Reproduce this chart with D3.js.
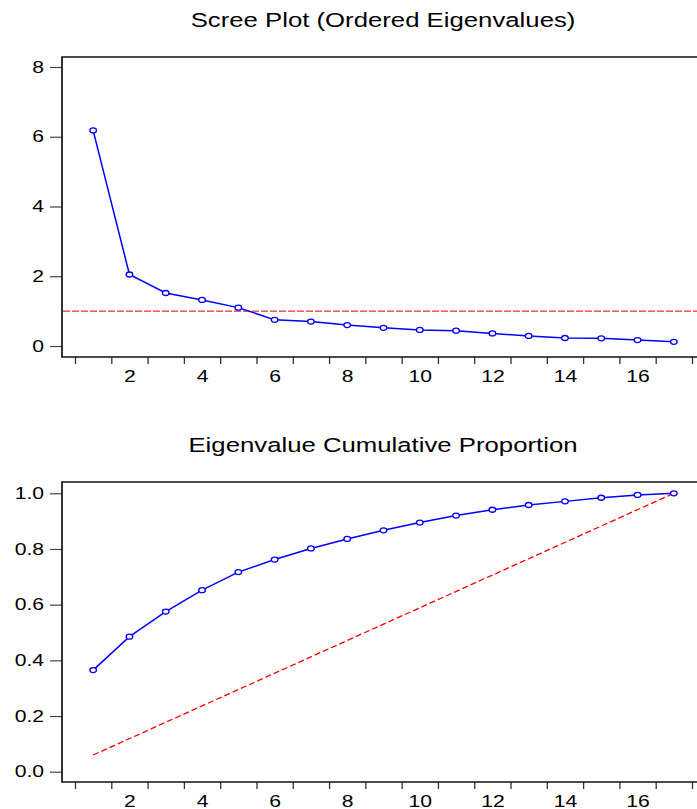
<!DOCTYPE html>
<html>
<head>
<meta charset="utf-8">
<script src="https://cdn.jsdelivr.net/npm/d3@7"></script>
<style>
  body { margin: 0; background: #fff; }
  svg { display: block; font-family: "Liberation Sans", Arial, sans-serif; }
</style>
</head>
<body>
<svg id="chart"></svg>
<script>
// data
let components = [1, 2, 3, 4, 5, 6, 7, 8, 9, 10, 11, 12, 13, 14, 15, 16, 17]
let eigenvalues = [6.18, 2.05, 1.52, 1.32, 1.10, 0.75, 0.70, 0.60, 0.52, 0.46, 0.44, 0.36, 0.29, 0.23, 0.22, 0.17, 0.12]
let cumProportion = [0.365, 0.485, 0.575, 0.652, 0.717, 0.762, 0.802, 0.836, 0.867, 0.895, 0.920, 0.941, 0.958, 0.971, 0.984, 0.994, 1.0]
let kaiserLine = 1
let equalShareLine = [[1, 0.06], [17, 1.0]]

let xTickLabels = [2, 4, 6, 8, 10, 12, 14, 16]
let xTickMarks = d3.range(0.5, 17.6, 1)
let screeTicks = [0, 2, 4, 6, 8]
let cumTicks = [0, 0.2, 0.4, 0.6, 0.8, 1.0]

let width = 697
let height = 809
let frameLeft = 62
let frameRight = 697
// the source picture is stretched sideways, text included
let stretch = 1.32

let svg = d3.select('#chart')
    .attr('width', width)
    .attr('height', height)

let xScale = d3.scaleLinear()
    .domain([0.5, 17.5])
    .range([75, 692])

let drawPanel = (p) => {

    let g = svg.append('g')

    g.append('text')
        .attr('transform', 'translate(383,' + p.titleY + ') scale(' + stretch + ',1)')
        .attr('text-anchor', 'middle')
        .style('font-size', '19.5px')
        .text(p.title)

    // x tick marks at half steps
    g.append('g')
        .attr('transform', 'translate(0,' + p.bottom + ')')
        .call(d3.axisBottom(xScale).tickValues(xTickMarks).tickFormat('').tickSize(7).tickSizeOuter(0))
        .call(a => a.select('.domain').remove())
        .call(a => a.selectAll('line').attr('stroke', '#333').attr('stroke-width', 1.3))

    // x labels on the whole numbers
    g.append('g')
        .attr('transform', 'translate(0,' + p.bottom + ')')
        .call(d3.axisBottom(xScale).tickValues(xTickLabels).tickSize(0).tickPadding(14))
        .call(a => a.select('.domain').remove())
        .call(a => a.selectAll('text')
            .attr('transform', 'scale(' + stretch + ',1)')
            .style('font-size', '16px').attr('fill', '#000'))

    g.append('g')
        .attr('transform', 'translate(' + frameLeft + ',0)')
        .call(d3.axisLeft(p.y).tickValues(p.ticks).tickFormat(p.fmt).tickSize(12).tickSizeOuter(0))
        .call(a => a.select('.domain').remove())
        .call(a => a.selectAll('line').attr('stroke', '#444').attr('stroke-width', 1.2))
        .call(a => a.selectAll('text')
            .attr('x', 0)
            .attr('transform', 'translate(-18,0) scale(' + stretch + ',1)')
            .style('font-size', '16px').attr('fill', '#000'))

    // frame: left, top, bottom
    g.append('path')
        .attr('d', 'M' + frameRight + ',' + p.top + 'H' + frameLeft + 'V' + p.bottom + 'H' + frameRight)
        .attr('fill', 'none')
        .attr('stroke', '#111')
        .attr('stroke-width', 1.7)

    return g
}

let drawSeries = (g, y, vals) => {
    let line = d3.line()
        .x((d, i) => xScale(components[i]))
        .y(d => y(d))

    g.append('path')
        .datum(vals)
        .attr('d', line)
        .attr('fill', 'none')
        .attr('stroke', '#0000ff')
        .attr('stroke-width', 1.5)

    g.selectAll('ellipse.pt')
        .data(vals)
        .enter()
        .append('ellipse')
        .attr('class', 'pt')
        .attr('cx', (d, i) => xScale(components[i]))
        .attr('cy', d => y(d))
        .attr('rx', 3.3)
        .attr('ry', 2.5)
        .attr('fill', '#fff')
        .attr('stroke', '#0000ff')
        .attr('stroke-width', 1.3)
}

// top panel: scree plot
let yScree = d3.scaleLinear().domain([0, 8]).range([346, 67])
let screePanel = drawPanel({
    title: 'Scree Plot (Ordered Eigenvalues)',
    titleY: 27, top: 57, bottom: 357,
    y: yScree, ticks: screeTicks, fmt: d3.format('d')
})

screePanel.append('line')
    .attr('x1', frameLeft + 1)
    .attr('x2', frameRight)
    .attr('y1', yScree(kaiserLine))
    .attr('y2', yScree(kaiserLine))
    .attr('stroke', '#e00000')
    .attr('stroke-width', 1)
    .attr('stroke-dasharray', '7,2')

drawSeries(screePanel, yScree, eigenvalues)

// bottom panel: cumulative proportion
let yCum = d3.scaleLinear().domain([0, 1]).range([771.7, 493.3])
let cumPanel = drawPanel({
    title: 'Eigenvalue Cumulative Proportion',
    titleY: 452, top: 482, bottom: 782,
    y: yCum, ticks: cumTicks, fmt: d3.format('.1f')
})

cumPanel.append('path')
    .datum(equalShareLine)
    .attr('d', d3.line().x(d => xScale(d[0])).y(d => yCum(d[1])))
    .attr('fill', 'none')
    .attr('stroke', '#ff0000')
    .attr('stroke-width', 1.3)
    .attr('stroke-dasharray', '6,3')

drawSeries(cumPanel, yCum, cumProportion)
</script>
</body>
</html>
